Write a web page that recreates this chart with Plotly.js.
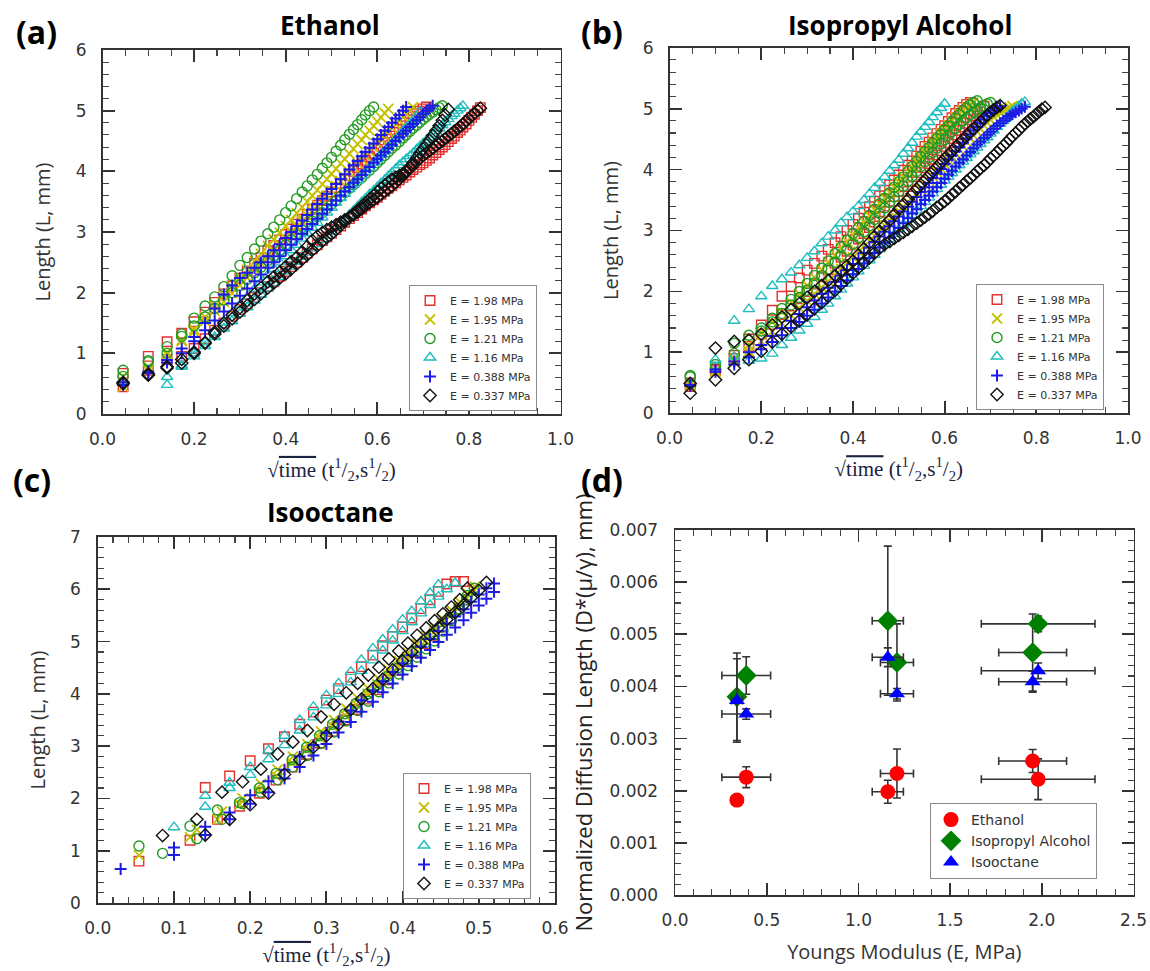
<!DOCTYPE html>
<html><head><meta charset="utf-8">
<script src="https://cdn.plot.ly/plotly-3.0.1.min.js"></script>
<style>html,body{margin:0;padding:0;background:#fff}#chart{width:1150px;height:971px}</style>
</head><body><div id="chart"></div>
<script>
// ---------- legend labels ----------
const seriesLabels = ['E = 1.98 MPa','E = 1.95 MPa','E = 1.21 MPa','E = 1.16 MPa','E = 0.388 MPa','E = 0.337 MPa'];

// ---------- sqrt(time) frames, panels (a) and (b) ----------
const framesAB = [0.045,0.1,0.141,0.173,0.2,0.224,0.245,0.265,0.283,0.3,0.316,0.332,0.346,0.361,0.374,0.387,0.4,0.412,0.424,0.436,0.447,0.458,0.469,0.48,0.49,0.5,0.51,0.52,0.529,0.539,0.548,0.557,0.566,0.574,0.583,0.592,0.6,0.608,0.616,0.624,0.632,0.64,0.648,0.656,0.663,0.671,0.678,0.686,0.693,0.7,0.707,0.714,0.721,0.728,0.735,0.742,0.748,0.755,0.762,0.768,0.775,0.781,0.787,0.794,0.8,0.806,0.812,0.819,0.825];

// ---------- panel (a) Ethanol : length (mm) ----------
const a_198_1 = [0.67,0.95,1.19,1.33,1.52,1.68,1.84,1.98,2.11,2.24,2.36,2.48,2.58,2.69,2.78,2.87,2.96,3.05,3.13,3.21,3.29,3.37,3.44,3.52,3.59,3.66,3.73,3.8,3.86,3.93,4.0,4.06,4.12,4.18,4.24,4.3,4.36,4.42,4.47,4.53,4.58,4.64,4.69,4.75,4.8,4.85,4.9,4.95,4.99,5.03,5.06];
const a_198_2 = [0.45,0.72,0.9,0.95,1.08,1.24,1.38,1.5,1.61,1.72,1.82,1.92,2.0,2.1,2.18,2.27,2.35,2.43,2.5,2.58,2.65,2.72,2.79,2.86,2.92,2.98,3.04,3.1,3.16,3.22,3.27,3.32,3.38,3.43,3.48,3.53,3.57,3.62,3.67,3.72,3.76,3.81,3.86,3.9,3.94,3.99,4.03,4.07,4.11,4.14,4.18,4.22,4.27,4.31,4.36,4.4,4.44,4.49,4.54,4.58,4.64,4.68,4.73,4.78,4.84,4.89,4.94,5.0,5.05];
const a_195_1 = [0.62,0.78,1.02,1.22,1.4,1.6,1.78,1.95,2.1,2.25,2.38,2.52,2.64,2.77,2.88,2.99,3.1,3.2,3.31,3.41,3.5,3.6,3.69,3.79,3.87,3.96,4.04,4.13,4.2,4.29,4.37,4.45,4.52,4.6,4.67,4.75,4.82,4.89,4.96,5.03];
const a_195_2 = [0.45,0.72,0.98,1.2,1.36,1.53,1.7,1.85,1.99,2.12,2.25,2.38,2.48,2.6,2.7,2.8,2.9,3.0,3.09,3.18,3.27,3.35,3.44,3.52,3.6,3.68,3.76,3.84,3.91,3.99,4.06,4.13,4.2,4.26,4.33,4.4,4.47,4.53,4.59,4.65,4.72,4.78,4.84,4.9,4.95,5.01,5.06];
const a_121_1 = [0.72,0.86,1.11,1.32,1.58,1.78,1.93,2.1,2.28,2.45,2.58,2.72,2.85,2.97,3.08,3.2,3.32,3.43,3.55,3.66,3.76,3.86,3.95,4.05,4.14,4.23,4.33,4.43,4.52,4.61,4.69,4.77,4.85,4.93,5.0,5.06];
const a_121_2 = [0.62,0.88,1.0,1.28,1.45,1.6,1.74,1.88,2.0,2.12,2.22,2.33,2.42,2.53,2.61,2.7,2.79,2.87,2.95,3.03,3.1,3.18,3.25,3.32,3.39,3.46,3.52,3.59,3.65,3.72,3.78,3.84,3.9,3.96,4.02,4.08,4.14,4.2,4.26,4.32,4.38,4.43,4.49,4.55,4.6,4.66,4.71,4.76,4.81,4.86,4.9,4.94,4.98,5.02,5.05,5.08];
const a_116_1 = [null,null,0.48,0.78,0.95,1.12,1.27,1.41,1.53,1.65,1.76,1.87,1.97,2.07,2.16,2.26,2.35,2.43,2.51,2.59,2.66,2.73,2.8,2.87,2.94,3.0,3.07,3.14,3.21,3.28,3.35,3.42,3.49,3.55,3.62,3.68,3.74,3.8,3.86,3.92,3.98,4.04,4.1,4.15,4.2,4.25,4.3,4.36,4.41,4.46,4.51,4.56,4.61,4.66,4.71,4.76,4.81,4.86,4.91,4.95,5.0,5.04,5.08];
const a_116_2 = [null,null,0.61,0.8,1.0,1.18,1.35,1.51,1.66,1.8,1.93,2.06,2.17,2.29,2.39,2.5,2.6,2.7,2.79,2.89,2.98,3.07,3.15,3.24,3.32,3.4,3.48,3.56,3.63,3.71,3.78,3.85,3.93,3.99,4.06,4.14,4.2,4.27,4.33,4.4,4.46,4.53,4.59,4.66,4.72,4.78,4.84,4.91,4.98];
const a_0388_1 = [0.48,0.67,0.89,1.08,1.27,1.5,1.74,1.97,2.12,2.24,2.33,2.41,2.5,2.6,2.7,2.8,2.9,3.0,3.1,3.19,3.28,3.37,3.46,3.55,3.63,3.71,3.79,3.87,3.95,4.03,4.1,4.17,4.25,4.32,4.39,4.46,4.53,4.6,4.67,4.73,4.8,4.87,4.93,5.0,5.06];
const a_0388_2 = [0.52,0.7,0.85,1.0,1.2,1.38,1.54,1.69,1.82,1.95,2.07,2.19,2.3,2.41,2.5,2.6,2.7,2.79,2.88,2.97,3.05,3.13,3.22,3.3,3.37,3.45,3.52,3.6,3.67,3.74,3.81,3.87,3.94,4.0,4.07,4.14,4.2,4.26,4.32,4.38,4.44,4.5,4.56,4.62,4.67,4.73,4.78,4.84,4.89,4.95,5.0,5.04,5.08];
const a_0337_1 = [0.5,0.64,0.78,0.84,1.0,1.18,1.35,1.5,1.63,1.75,1.87,1.98,2.08,2.18,2.26,2.34,2.43,2.51,2.58,2.67,2.76,2.86,2.93,2.99,3.04,3.08,3.12,3.16,3.2,3.24,3.28,3.33,3.38,3.43,3.48,3.53,3.57,3.62,3.67,3.71,3.76,3.82,3.87,3.93,3.99,4.07,4.14,4.22,4.3,4.37,4.44,4.51,4.59,4.67,4.75,4.84,4.93,5.02];
const a_0337_2 = [0.52,0.66,0.76,0.9,1.02,1.17,1.32,1.45,1.57,1.68,1.79,1.89,1.98,2.08,2.16,2.24,2.31,2.39,2.47,2.55,2.62,2.7,2.77,2.85,2.91,2.97,3.04,3.11,3.17,3.24,3.3,3.36,3.42,3.48,3.54,3.6,3.66,3.72,3.77,3.82,3.87,3.9,3.93,3.96,4.0,4.05,4.1,4.16,4.21,4.26,4.3,4.34,4.38,4.42,4.46,4.5,4.54,4.58,4.62,4.66,4.7,4.74,4.78,4.83,4.87,4.91,4.96,5.0,5.04];

// ---------- panel (b) Isopropyl Alcohol : length (mm) ----------
const b_198_1 = [0.44,0.7,0.95,1.22,1.45,1.69,1.92,2.08,2.22,2.35,2.46,2.58,2.69,2.8,2.9,3.0,3.1,3.2,3.3,3.39,3.48,3.57,3.66,3.75,3.83,3.91,3.99,4.07,4.14,4.22,4.3,4.38,4.45,4.52,4.59,4.66,4.72,4.79,4.85,4.92,4.97,5.02,5.07,5.1];
const b_198_2 = [0.5,0.72,0.9,1.1,1.3,1.46,1.62,1.76,1.88,2.0,2.12,2.24,2.35,2.46,2.56,2.66,2.76,2.86,2.95,3.05,3.14,3.23,3.31,3.4,3.48,3.56,3.64,3.72,3.8,3.88,3.95,4.03,4.1,4.17,4.24,4.31,4.38,4.44,4.51,4.57,4.64,4.7,4.76,4.82,4.88,4.94,4.99,5.04];
const b_195_1 = [0.46,0.68,0.9,1.12,1.32,1.5,1.66,1.82,1.96,2.1,2.23,2.36,2.48,2.6,2.71,2.82,2.93,3.04,3.14,3.24,3.34,3.44,3.53,3.62,3.71,3.8,3.88,3.97,4.05,4.13,4.21,4.29,4.37,4.44,4.51,4.59,4.66,4.73,4.8,4.86,4.92,4.97,5.02,5.06,5.1];
const b_195_2 = [0.5,0.7,0.86,1.02,1.18,1.34,1.48,1.61,1.73,1.85,1.96,2.07,2.17,2.27,2.37,2.47,2.56,2.65,2.74,2.83,2.91,3.0,3.08,3.16,3.24,3.32,3.39,3.47,3.54,3.61,3.68,3.75,3.82,3.89,3.96,4.02,4.09,4.15,4.21,4.27,4.33,4.39,4.45,4.51,4.56,4.62,4.67,4.72,4.77,4.82,4.86,4.9,4.93,4.96,4.99,5.02,5.04];
const b_121_1 = [0.6,0.8,1.15,1.28,1.4,1.56,1.72,1.87,2.0,2.13,2.26,2.38,2.5,2.62,2.73,2.84,2.95,3.05,3.15,3.25,3.35,3.44,3.53,3.62,3.71,3.8,3.88,3.97,4.05,4.13,4.21,4.29,4.36,4.43,4.51,4.58,4.65,4.71,4.78,4.84,4.9,4.96,5.01,5.06,5.1,5.13];
const b_121_2 = [0.62,0.75,0.98,1.2,1.35,1.5,1.64,1.78,1.9,2.02,2.14,2.26,2.37,2.48,2.58,2.68,2.78,2.88,2.98,3.08,3.18,3.28,3.37,3.46,3.55,3.64,3.73,3.81,3.89,3.97,4.05,4.13,4.2,4.28,4.35,4.42,4.49,4.56,4.62,4.68,4.74,4.8,4.85,4.9,4.94,4.98,5.02,5.05,5.08,5.1];
const b_116_1 = [null,null,1.52,1.71,1.92,2.09,2.2,2.31,2.43,2.55,2.66,2.79,2.9,3.0,3.12,3.22,3.31,3.4,3.5,3.6,3.7,3.78,3.88,3.98,4.07,4.16,4.26,4.35,4.44,4.54,4.62,4.7,4.78,4.86,4.94,5.01,5.08];
const b_116_2 = [null,0.88,0.93,0.86,0.9,0.98,1.12,1.24,1.36,1.47,1.58,1.7,1.8,1.92,2.03,2.13,2.23,2.33,2.42,2.51,2.6,2.69,2.77,2.86,2.94,3.02,3.1,3.18,3.25,3.33,3.4,3.47,3.54,3.61,3.68,3.75,3.82,3.88,3.94,4.0,4.07,4.13,4.19,4.25,4.3,4.36,4.42,4.48,4.53,4.59,4.64,4.7,4.75,4.8,4.85,4.9,4.95,5.0,5.04,5.08,5.11];
const b_0388_1 = [0.47,0.72,0.85,1.0,1.12,1.27,1.4,1.52,1.63,1.74,1.85,1.96,2.06,2.16,2.26,2.35,2.45,2.54,2.63,2.72,2.81,2.9,2.98,3.07,3.15,3.23,3.31,3.39,3.47,3.55,3.63,3.71,3.78,3.86,3.94,4.01,4.09,4.16,4.23,4.3,4.37,4.44,4.51,4.58,4.64,4.7,4.76,4.82,4.88,4.93,4.97,5.01,5.04];
const b_0388_2 = [0.45,0.68,0.8,0.92,1.05,1.17,1.28,1.4,1.5,1.6,1.7,1.8,1.9,2.0,2.09,2.18,2.28,2.37,2.46,2.55,2.63,2.72,2.8,2.88,2.96,3.04,3.12,3.2,3.28,3.35,3.43,3.5,3.57,3.64,3.71,3.78,3.85,3.92,3.98,4.05,4.11,4.17,4.23,4.29,4.35,4.41,4.46,4.52,4.57,4.62,4.67,4.72,4.76,4.8,4.84,4.88,4.91,4.94,4.97,5.0,5.03];
const b_0337_1 = [0.49,1.07,1.18,1.2,1.3,1.45,1.58,1.7,1.8,1.9,2.0,2.1,2.18,2.26,2.34,2.42,2.5,2.6,2.7,2.8,2.9,2.99,3.08,3.17,3.26,3.35,3.43,3.51,3.6,3.68,3.75,3.83,3.9,3.97,4.04,4.11,4.18,4.24,4.3,4.37,4.43,4.49,4.56,4.62,4.67,4.73,4.78,4.84,4.89,4.94,4.98,5.02,5.05];
const b_0337_2 = [0.33,0.55,0.74,0.88,1.02,1.17,1.3,1.42,1.52,1.62,1.72,1.82,1.92,2.02,2.12,2.21,2.3,2.39,2.47,2.55,2.63,2.71,2.77,2.82,2.87,2.92,2.97,3.02,3.07,3.12,3.17,3.22,3.27,3.32,3.38,3.43,3.48,3.53,3.59,3.64,3.7,3.75,3.81,3.86,3.91,3.97,4.02,4.07,4.12,4.18,4.23,4.28,4.34,4.39,4.44,4.5,4.55,4.6,4.65,4.7,4.75,4.79,4.83,4.87,4.91,4.95,4.99,5.02];

// ---------- sqrt(time) frames, panel (c) (three start offsets) ----------
const framesC_A = [0.03,0.1,0.141,0.173,0.2,0.224,0.245,0.265,0.283,0.3,0.316,0.332,0.346,0.361,0.374,0.387,0.4,0.412,0.424,0.436,0.447,0.458,0.469,0.48,0.49,0.5,0.51,0.52];
const framesC_B = [0.054,0.121,0.157,0.186,0.212,0.234,0.255,0.274,0.291,0.308,0.324,0.339,0.354,0.367,0.381,0.394,0.406,0.418,0.43,0.441,0.452,0.463,0.474,0.484,0.494];
const framesC_C = [0.085,0.13,0.163,0.19,0.214,0.236,0.256,0.275,0.293,0.31,0.326,0.341,0.355,0.369,0.382,0.395,0.407,0.419,0.431,0.442,0.453,0.464,0.475,0.485,0.495];

// ---------- panel (c) Isooctane : length (mm) ----------
const c_198_1 = [null,null,2.21,2.43,2.72,2.95,3.18,3.42,3.65,3.88,4.1,4.32,4.52,4.74,4.92,5.1,5.28,5.45,5.63,5.8,5.96,6.1,6.15,6.15];
const c_198_2 = [0.8,1.2,1.6,1.85,2.1,2.35,2.6,2.84,3.06,3.28,3.5,3.7,3.9,4.08,4.27,4.45,4.62,4.8,4.96,5.12,5.28,5.44,5.62,5.8];
const c_195_1 = [0.91,1.26,1.6,1.88,2.15,2.42,2.68,2.93,3.16,3.38,3.6,3.8,4.0,4.18,4.36,4.53,4.7,4.86,5.02,5.18,5.34,5.5,5.66,5.82,5.98];
const c_195_2 = [null,1.4,1.75,2.0,2.28,2.55,2.8,3.04,3.28,3.5,3.72,3.92,4.1,4.28,4.46,4.63,4.79,4.95,5.11,5.27,5.43,5.6,5.76,5.92,6.05];
const c_121_1 = [1.09,1.47,1.78,1.92,2.2,2.48,2.74,2.98,3.2,3.42,3.62,3.82,4.0,4.17,4.34,4.5,4.66,4.82,4.98,5.13,5.28,5.43,5.6,5.8,6.02];
const c_121_2 = [0.95,1.23,1.6,1.9,2.12,2.36,2.6,2.82,3.05,3.27,3.48,3.68,3.86,4.04,4.21,4.38,4.54,4.7,4.86,5.01,5.2,5.4,5.62,5.88];
const c_116_1 = [null,1.45,2.05,2.3,2.6,2.92,3.2,3.5,3.75,3.97,4.2,4.42,4.65,4.87,5.04,5.23,5.42,5.58,5.77,5.93,6.09];
const c_116_2 = [null,null,1.84,2.2,2.45,2.75,3.02,3.3,3.55,3.78,4.0,4.22,4.44,4.64,4.83,5.02,5.2,5.37,5.54,5.7,5.86,6.0,6.12];
const c_0388_1 = [0.65,1.06,1.46,1.73,2.06,2.33,2.55,2.8,3.02,3.25,3.47,3.68,3.88,4.06,4.24,4.42,4.58,4.74,4.9,5.05,5.2,5.34,5.48,5.62,5.76,5.9,6.02,6.11];
const c_0388_2 = [null,0.92,1.3,1.6,1.9,2.12,2.38,2.6,2.82,3.04,3.26,3.46,3.66,3.85,4.03,4.2,4.37,4.53,4.69,4.84,4.99,5.13,5.27,5.41,5.55,5.69,5.82,5.95];
const c_0337_1 = [1.29,1.6,2.12,2.32,2.56,2.85,3.08,3.3,3.56,3.8,4.02,4.2,4.36,4.51,4.67,4.82,4.97,5.12,5.26,5.4,5.53,5.66,5.8,6.02];
const c_0337_2 = [null,null,1.3,1.6,1.88,2.1,2.46,2.74,2.98,3.2,3.42,3.7,3.9,4.1,4.28,4.46,4.63,4.8,4.97,5.12,5.27,5.42,5.56,5.7,5.84,5.98,6.13];

// ---------- panel (d) normalized diffusion length ----------
const fluidNames = ['Ethanol','Isopropyl Alcohol','Isooctane'];
const modulus = [0.337,0.388,1.16,1.21,1.95,1.98];
const modulusErr = [0.03,0.133,0.085,0.09,0.185,0.31];
const ethanolD = [0.00182,0.00226,0.00198,0.00233,0.00257,0.00222];
const ethanolErr = [0.00004,0.0002,0.00022,0.00047,0.00022,0.00039];
const ipaD = [0.0038,0.00421,0.00526,0.00446,0.00465,0.0052];
const ipaErr = [0.00084,0.00036,0.00143,0.00074,0.00074,0.00015];
const octD = [0.00373,0.00347,0.00456,0.00386,0.00409,0.0043];
const octErr = [0.0008,0.0001,0.00018,0.0001,0.0002,0.00015];

// ---------- styles ----------
const styles = [
  {symbol:'square-open', color:'#e3302e', size:9.5, lw:1.4},
  {symbol:'x-thin-open', color:'#c4c000', size:10, lw:1.8},
  {symbol:'circle-open', color:'#249a24', size:10, lw:1.4},
  {symbol:'triangle-up-open', color:'#1fbdbd', size:10, lw:1.4},
  {symbol:'cross-thin-open', color:'#1c1ce6', size:8.5, lw:2},
  {symbol:'diamond-open', color:'#111111', size:9.5, lw:1.4}
];

function trialTrace(frames, ys, k, first, xa, ya, leg) {
  const s = styles[k];
  return {
    type:'scatter', mode:'markers', x: frames.slice(0, ys.length), y: ys,
    xaxis: xa, yaxis: ya, legend: leg, name: seriesLabels[k], legendgroup: leg + k,
    showlegend: first, hoverinfo:'skip',
    marker:{symbol:s.symbol, size:s.size, color:s.color, line:{color:s.color, width:s.lw}}
  };
}

const traces = [];
function addPanel(sets, xa, ya, leg) {
  sets.forEach(([frames, ys, k, first]) => traces.push(trialTrace(frames, ys, k, first, xa, ya, leg)));
}
addPanel([
  [framesAB,a_198_1,0,true],[framesAB,a_198_2,0,false],
  [framesAB,a_195_1,1,true],[framesAB,a_195_2,1,false],
  [framesAB,a_121_1,2,true],[framesAB,a_121_2,2,false],
  [framesAB,a_116_1,3,true],[framesAB,a_116_2,3,false],
  [framesAB,a_0388_1,4,true],[framesAB,a_0388_2,4,false],
  [framesAB,a_0337_1,5,true],[framesAB,a_0337_2,5,false]
], 'x','y','legend');
addPanel([
  [framesAB,b_198_1,0,true],[framesAB,b_198_2,0,false],
  [framesAB,b_195_1,1,true],[framesAB,b_195_2,1,false],
  [framesAB,b_121_1,2,true],[framesAB,b_121_2,2,false],
  [framesAB,b_116_1,3,true],[framesAB,b_116_2,3,false],
  [framesAB,b_0388_1,4,true],[framesAB,b_0388_2,4,false],
  [framesAB,b_0337_1,5,true],[framesAB,b_0337_2,5,false]
], 'x2','y2','legend2');
addPanel([
  [framesC_A,c_198_1,0,true],[framesC_B,c_198_2,0,false],
  [framesC_B,c_195_1,1,true],[framesC_C,c_195_2,1,false],
  [framesC_B,c_121_1,2,true],[framesC_C,c_121_2,2,false],
  [framesC_A,c_116_1,3,true],[framesC_A,c_116_2,3,false],
  [framesC_A,c_0388_1,4,true],[framesC_A,c_0388_2,4,false],
  [framesC_C,c_0337_1,5,true],[framesC_A,c_0337_2,5,false]
], 'x3','y3','legend3');

const dStyles = [
  {symbol:'circle', color:'#ff0000', size:15},
  {symbol:'diamond', color:'#008000', size:16},
  {symbol:'triangle-up', color:'#0000ff', size:14}
];
[[ethanolD,ethanolErr],[ipaD,ipaErr],[octD,octErr]].forEach(([vals, errs], i) => {
  traces.push({
    type:'scatter', mode:'markers', x: modulus, y: vals, name: fluidNames[i],
    xaxis:'x4', yaxis:'y4', legend:'legend4', hoverinfo:'skip',
    marker:{symbol:dStyles[i].symbol, size:dStyles[i].size, color:dStyles[i].color},
    error_x:{type:'data', array: modulusErr, visible:true, color:'#333', thickness:1.6, width:4},
    error_y:{type:'data', array: errs, visible:true, color:'#333', thickness:1.6, width:4}
  });
});

// ---------- axes ----------
const W = 1150, H = 971;
function axis(px0, px1, horizontal, range, dtick, minorDtick, fmt, anchor, standoff) {
  const dom = horizontal ? [px0/W, px1/W] : [1 - px1/H, 1 - px0/H];
  return {
    domain: dom, range: range, autorange:false, anchor: anchor, dtick: dtick, tick0:0, tickformat: fmt,
    showgrid:false, zeroline:false, showline:true, linecolor:'#333', linewidth:1.6, mirror:'ticks',
    ticks:'inside', ticklen:12, tickwidth:1.8, tickcolor:'#333',
    minor:{ticks:'inside', ticklen:6, tickwidth:1.1, tickcolor:'#444', dtick:minorDtick, tick0:0, showgrid:false},
    tickfont:{family:'DejaVu Sans', size:17, color:'#333'}, ticklabelstandoff: standoff, fixedrange:true
  };
}
const xTitleText = '√<span style="text-decoration:overline">time</span> (t<sup>1</sup>/<sub>2</sub>,s<sup>1</sup>/<sub>2</sub>)';
const xTitleFont = {family:'Liberation Serif', size:21, color:'#1c2340'};
const yTitleFont = {family:'Open Sans', size:20, color:'#333'};

const xa = axis(102.5, 560.5, true, [0,1], 0.2, 0.05, '.1f', 'y', 9);
xa.title = {text:xTitleText, font:xTitleFont, standoff:14};
const ya = axis(50, 414, false, [0,6], 1, 0.2, 'd', 'x', 11);
ya.title = {text:'Length (L, mm)', font:yTitleFont, standoff:19};

const xb = axis(669.6, 1128, true, [0,1], 0.2, 0.05, '.1f', 'y2', 9);
xb.title = {text:xTitleText, font:xTitleFont, standoff:14};
const yb = axis(47.7, 413.3, false, [0,6], 1, 0.2, 'd', 'x2', 11);
yb.title = {text:'Length (L, mm)', font:yTitleFont, standoff:19};

const xc = axis(97.8, 555, true, [0,0.6], 0.1, 0.02, '.1f', 'y3', 9);
xc.title = {text:xTitleText, font:xTitleFont, standoff:10};
const yc = axis(537, 903, false, [0,7], 1, 0.2, 'd', 'x3', 12);
yc.title = {text:'Length (L, mm)', font:yTitleFont, standoff:19};

const xd = axis(675.1, 1133.5, true, [0,2.5], 0.5, 0.1, '.1f', 'y4', 9);
xd.title = {text:'Youngs Modulus (E, MPa)', font:{family:'Open Sans', size:20, color:'#333'}, standoff:16};
const yd = axis(530, 895, false, [0,0.007], 0.001, 0.0002, '.3f', 'x4', 12);
yd.title = {text:'Normalized Diffusion Length (D*(μ/γ), mm)', font:{family:'Open Sans', size:22, color:'#222'}, standoff:11};

function legendAt(pxLeft, pxTop, size) {
  return {x: pxLeft/W, y: 1 - pxTop/H, xanchor:'left', yanchor:'top', bgcolor:'#ffffff',
    bordercolor:'#8a8a8a', borderwidth:1, font:{family:'DejaVu Sans', size:size, color:'#333'},
    itemwidth:30, tracegroupgap:0};
}

function label(text, px, py, size, family) {
  return {text:text, x: px/W, y: 1 - py/H, xref:'paper', yref:'paper', xanchor:'center', yanchor:'middle',
    showarrow:false, font:{family: family || 'Open Sans', size:size, color:'#000'}};
}

const layout = {
  width: W, height: H, margin:{l:0,r:0,t:0,b:0}, paper_bgcolor:'#fff', plot_bgcolor:'#fff',
  xaxis: xa, yaxis: ya, xaxis2: xb, yaxis2: yb, xaxis3: xc, yaxis3: yc, xaxis4: xd, yaxis4: yd,
  legend: legendAt(409, 285, 11), legend2: legendAt(976, 284, 11), legend3: legendAt(403, 773, 11),
  legend4: legendAt(930, 803, 14),
  annotations: [
    label('<b>(a)</b>', 36, 32, 32), label('<b>(b)</b>', 602, 32, 32),
    label('<b>(c)</b>', 32, 479, 32), label('<b>(d)</b>', 602, 479, 32),
    label('<b>Ethanol</b>', 330, 25, 26), label('<b>Isopropyl Alcohol</b>', 900, 25, 26),
    label('<b>Isooctane</b>', 330, 512, 26)
  ],
  showlegend:true
};

Plotly.newPlot('chart', traces, layout, {displayModeBar:false, staticPlot:true});
</script>
</body></html>
